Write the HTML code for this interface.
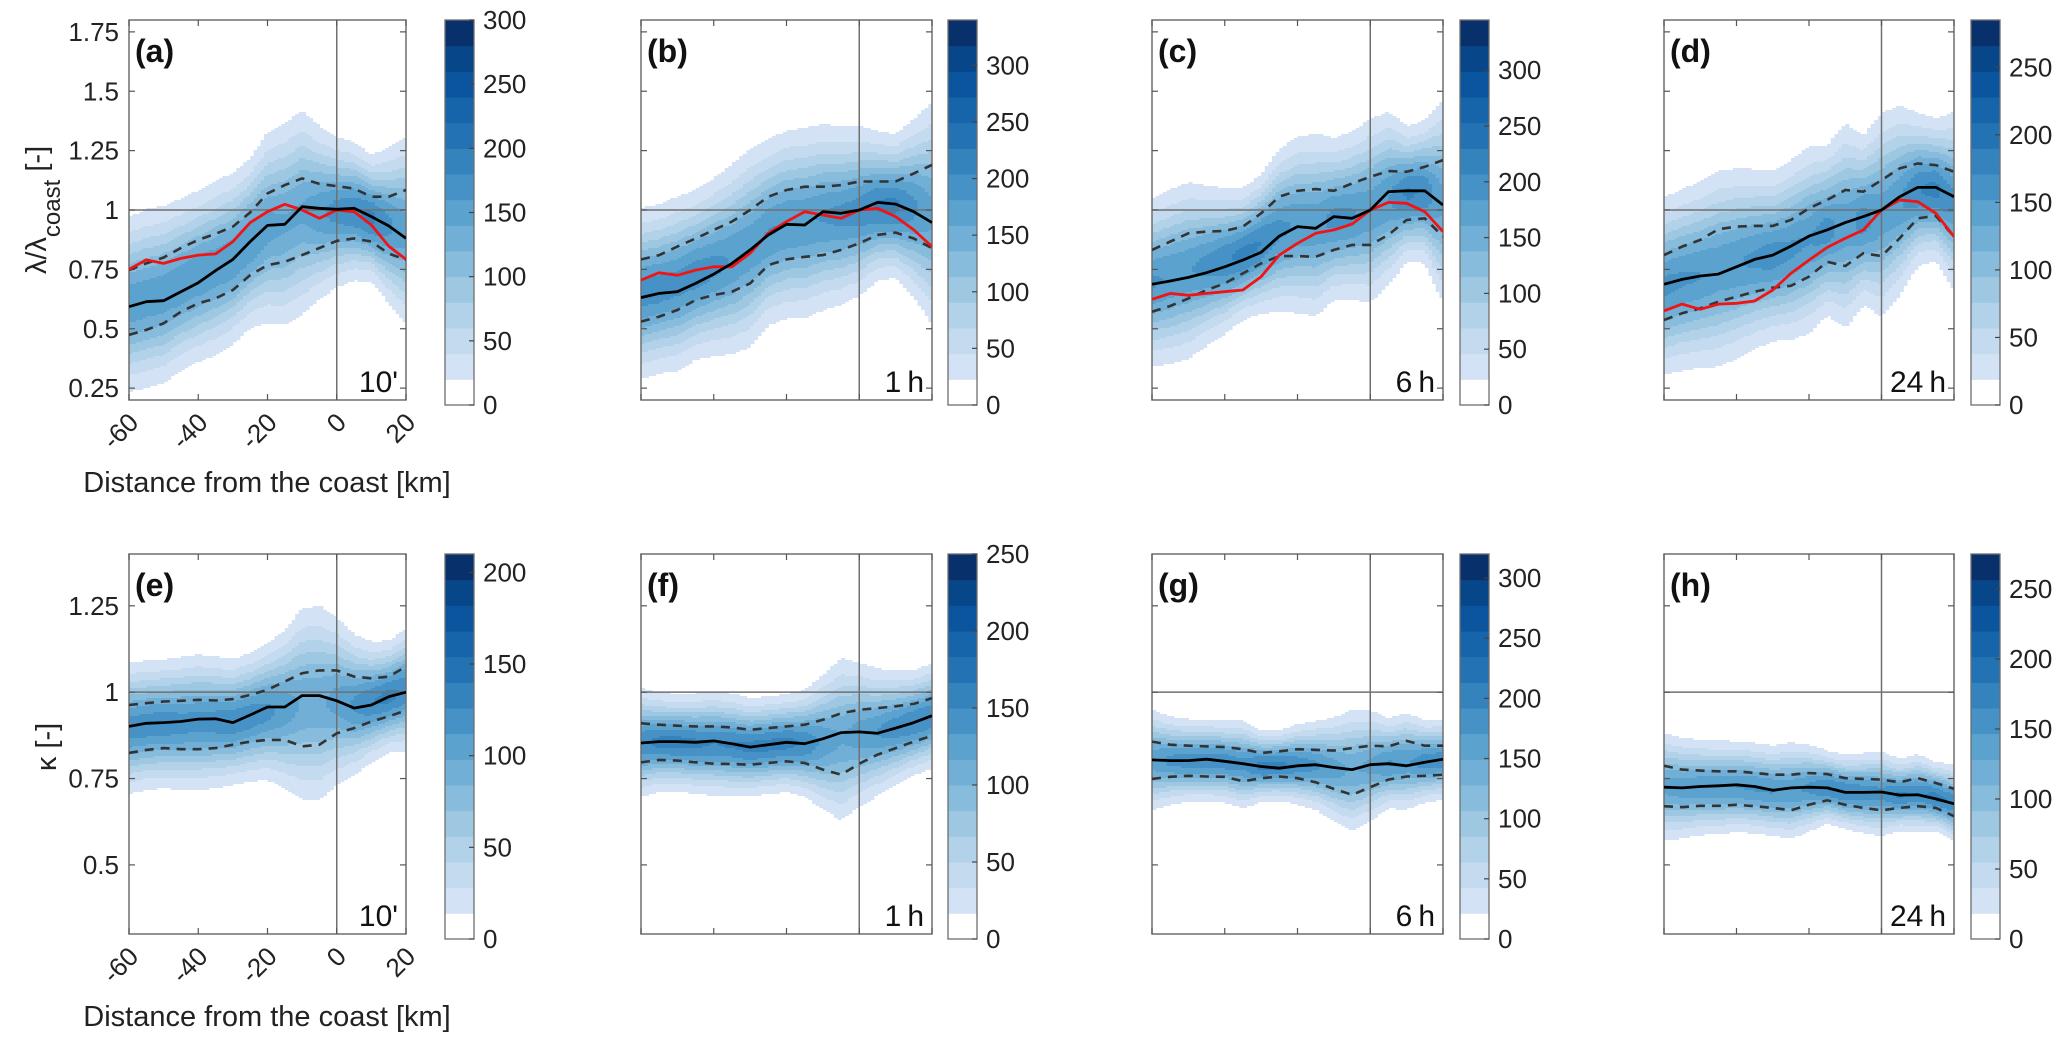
<!DOCTYPE html>
<html><head><meta charset="utf-8"><title>Density panels</title>
<style>
html,body{margin:0;padding:0;background:#fff;}
svg{display:block;font-family:"Liberation Sans",Arial,sans-serif;}
</style></head>
<body>
<svg id="fig" xmlns="http://www.w3.org/2000/svg" width="2067" height="1044" viewBox="0 0 2067 1044"></svg>
<script>
// ---------- data ----------
const xKm = [-60,-55,-50,-45,-40,-35,-30,-25,-20,-15,-10,-5,0,5,10,15,20];
const xTicks = [-60,-40,-20,0,20];
const yTicksTop = [0.25,0.5,0.75,1,1.25,1.5,1.75];
const yTickLabelsTop = ["0.25","0.5","0.75","1","1.25","1.5","1.75"];
const yTicksBot = [0.5,0.75,1,1.25];
const yTickLabelsBot = ["0.5","0.75","1","1.25"];
const panelLetters = ["(a)","(b)","(c)","(d)","(e)","(f)","(g)","(h)"];
const timeLabels = ["10'","1\u2009h","6\u2009h","24\u2009h","10'","1\u2009h","6\u2009h","24\u2009h"];
const cbMax = [300,340,345,285,210,250,320,275];
const cbTicks = [[0,50,100,150,200,250,300],[0,50,100,150,200,250,300],[0,50,100,150,200,250,300],[0,50,100,150,200,250],
                 [0,50,100,150,200],[0,50,100,150,200,250],[0,50,100,150,200,250,300],[0,50,100,150,200,250]];

const medA = [0.593,0.614,0.618,0.656,0.694,0.745,0.792,0.867,0.935,0.94,1.014,1.007,1.003,1.007,0.972,0.933,0.881];
const redA = [0.75,0.79,0.775,0.796,0.81,0.815,0.867,0.947,0.993,1.024,1.0,0.965,1.0,0.993,0.937,0.848,0.792];
const upA  = [0.747,0.775,0.80,0.84,0.874,0.90,0.93,0.99,1.07,1.105,1.133,1.11,1.10,1.09,1.056,1.056,1.084];
const loA  = [0.474,0.495,0.523,0.572,0.607,0.628,0.663,0.726,0.768,0.782,0.81,0.84,0.87,0.88,0.867,0.817,0.79];

const medB = [0.631,0.649,0.656,0.691,0.73,0.775,0.832,0.895,0.94,0.937,0.993,0.986,1.0,1.032,1.025,0.993,0.947];
const redB = [0.705,0.736,0.725,0.747,0.761,0.761,0.818,0.902,0.951,0.993,0.979,0.965,1.0,1.007,0.972,0.916,0.846];
const upB  = [0.792,0.81,0.846,0.88,0.916,0.951,1.0,1.056,1.084,1.098,1.098,1.105,1.12,1.12,1.12,1.154,1.19];
const loB  = [0.53,0.551,0.579,0.621,0.642,0.656,0.691,0.768,0.792,0.803,0.81,0.832,0.86,0.895,0.905,0.88,0.839];

const medC = [0.687,0.701,0.716,0.736,0.761,0.789,0.822,0.89,0.93,0.923,0.972,0.965,1.0,1.077,1.081,1.081,1.021];
const redC = [0.624,0.649,0.641,0.649,0.656,0.663,0.719,0.81,0.86,0.902,0.916,0.941,1.0,1.032,1.028,0.993,0.909];
const upC  = [0.832,0.867,0.902,0.909,0.912,0.93,0.986,1.056,1.081,1.088,1.081,1.112,1.14,1.164,1.161,1.182,1.21];
const loC  = [0.572,0.596,0.628,0.663,0.691,0.733,0.775,0.806,0.806,0.803,0.832,0.853,0.853,0.895,0.958,0.965,0.888];

const medD = [0.687,0.708,0.722,0.73,0.761,0.792,0.81,0.848,0.89,0.916,0.947,0.972,1.0,1.056,1.095,1.095,1.056];
const redD = [0.575,0.604,0.582,0.604,0.607,0.617,0.663,0.733,0.789,0.842,0.881,0.916,1.0,1.042,1.035,0.986,0.888];
const upD  = [0.81,0.846,0.874,0.919,0.93,0.933,0.933,0.958,1.007,1.042,1.084,1.077,1.126,1.175,1.196,1.189,1.161];
const loD  = [0.537,0.565,0.586,0.614,0.635,0.656,0.673,0.681,0.719,0.782,0.764,0.818,0.806,0.881,0.965,0.975,0.888];

const medE = [0.901,0.910,0.912,0.915,0.922,0.923,0.912,0.934,0.957,0.957,0.990,0.990,0.975,0.954,0.963,0.987,1.0];
const upE  = [0.963,0.968,0.973,0.975,0.978,0.976,0.98,0.992,1.007,1.031,1.055,1.063,1.063,1.045,1.04,1.045,1.074];
const loE  = [0.824,0.833,0.838,0.835,0.835,0.838,0.848,0.857,0.862,0.862,0.843,0.848,0.881,0.896,0.915,0.93,0.947];

const medF = [0.853,0.857,0.857,0.855,0.859,0.851,0.841,0.848,0.855,0.851,0.865,0.883,0.885,0.881,0.896,0.912,0.932];
const upF  = [0.91,0.906,0.903,0.901,0.901,0.898,0.891,0.896,0.901,0.906,0.92,0.939,0.949,0.954,0.959,0.966,0.983];
const loF  = [0.797,0.804,0.802,0.797,0.793,0.792,0.79,0.795,0.8,0.795,0.776,0.761,0.793,0.819,0.838,0.857,0.874];

const medG = [0.804,0.802,0.802,0.806,0.8,0.793,0.785,0.78,0.787,0.79,0.782,0.776,0.79,0.793,0.787,0.797,0.806];
const upG  = [0.857,0.848,0.845,0.843,0.841,0.835,0.824,0.829,0.835,0.833,0.831,0.838,0.845,0.843,0.859,0.845,0.845];
const loG  = [0.749,0.755,0.758,0.756,0.755,0.742,0.751,0.756,0.751,0.739,0.72,0.703,0.725,0.747,0.756,0.758,0.761];

const medH = [0.725,0.723,0.727,0.729,0.732,0.727,0.716,0.723,0.725,0.723,0.71,0.71,0.711,0.702,0.703,0.691,0.677];
const upH  = [0.787,0.776,0.773,0.771,0.771,0.766,0.761,0.761,0.766,0.763,0.751,0.749,0.747,0.739,0.751,0.737,0.72];
const loH  = [0.67,0.667,0.671,0.671,0.674,0.67,0.665,0.658,0.674,0.687,0.674,0.665,0.658,0.665,0.67,0.665,0.641];

// ---------- layout (not data) ----------
const palette = ["#ffffff","#d3e3f5","#c4dbef","#b2d2ea","#9ec8e1","#88bcdc","#71afd7","#5ba2cf","#4692c6","#3483bd","#2372b4","#1664aa","#0b559e","#08468a","#08306b"];
const NL = 15;
const panels = [
 {x0:129,w:277,y0:20,h:380,ymin:0.2,ymax:1.8,cbx:445,cbTop:20,cbBot:405,med:medA,red:redA,up:upA,lo:loA,labels:true,row:0},
 {x0:641,w:291,y0:20,h:380,ymin:0.2,ymax:1.8,cbx:948,cbTop:20,cbBot:405,med:medB,red:redB,up:upB,lo:loB,labels:false,row:0},
 {x0:1152,w:291,y0:20,h:380,ymin:0.2,ymax:1.8,cbx:1460,cbTop:20,cbBot:405,med:medC,red:redC,up:upC,lo:loC,labels:false,row:0},
 {x0:1664,w:290,y0:20,h:380,ymin:0.2,ymax:1.8,cbx:1971,cbTop:20,cbBot:405,med:medD,red:redD,up:upD,lo:loD,labels:false,row:0},
 {x0:129,w:277,y0:554,h:380,ymin:0.3,ymax:1.4,cbx:445,cbTop:554,cbBot:939,med:medE,red:null,up:upE,lo:loE,labels:true,row:1},
 {x0:641,w:291,y0:554,h:380,ymin:0.3,ymax:1.4,cbx:948,cbTop:554,cbBot:939,med:medF,red:null,up:upF,lo:loF,labels:false,row:1},
 {x0:1152,w:291,y0:554,h:380,ymin:0.3,ymax:1.4,cbx:1460,cbTop:554,cbBot:939,med:medG,red:null,up:upG,lo:loG,labels:false,row:1},
 {x0:1664,w:290,y0:554,h:380,ymin:0.3,ymax:1.4,cbx:1971,cbTop:554,cbBot:939,med:medH,red:null,up:upH,lo:loH,labels:false,row:1}
];
const NS = "http://www.w3.org/2000/svg";
const svg = document.getElementById('fig');
function mk(tag, attrs, parent){
  const e = document.createElementNS(NS, tag);
  for (const k in attrs) e.setAttribute(k, attrs[k]);
  (parent||svg).appendChild(e);
  return e;
}
function interp(arr, km){
  const t = (km + 60) / 5;
  const i = Math.max(0, Math.min(15, Math.floor(t)));
  const f = t - i;
  return arr[i] * (1 - f) + arr[i + 1] * f;
}

panels.forEach((p, pi) => {
  const g = mk('g', {});
  
  
  const X = v => p.x0 + (v + 60) / 80 * p.w;
  const Y = v => p.y0 + (p.ymax - v) / (p.ymax - p.ymin) * p.h;
  const Yinv = y => p.ymax - (y - p.y0) / p.h * (p.ymax - p.ymin);

  const cid = 'clip' + pi;
  const cp = mk('clipPath', {id: cid}, g);
  mk('rect', {x: p.x0, y: p.y0, width: p.w, height: p.h}, cp);

  // density field (derived from quartile arrays)
  const dens = mk('g', {'clip-path': 'url(#' + cid + ')'}, g);
  
  
  let sMin = 1e9;
  for (let i = 0; i < xKm.length; i++) sMin = Math.min(sMin, p.up[i] - p.lo[i]);
  sMin /= 1.35;
  for (let c = 0; c < 80; c++) {
    const km = -60 + c + 0.5;
    const up = interp(p.up, km), lo = interp(p.lo, km), md = interp(p.med, km);
    const mid = (up + lo) / 2 * 0.6 + md * 0.4;
    const s = Math.max((up - lo) / 1.35, 0.03);
    const peak = 0.62 * Math.sqrt(sMin / s);
    const sw = s * 0.9;
    const xa = X(-60 + c), xb = X(-59 + c);
    let runStart = null, runLev = 0;
    for (let y = p.y0; y <= p.y0 + p.h; y += 2) {
      const v = Yinv(y + 1);
      const z = (v - mid) / sw;
      const d = peak * Math.exp(-0.5 * z * z);
      let lev = Math.min(NL - 1, Math.floor(d * NL));
      if (y >= p.y0 + p.h) lev = -1;
      if (lev !== runLev || y >= p.y0 + p.h) {
        if (runLev > 0 && runStart !== null) {
          mk('rect', {x: xa.toFixed(2), y: runStart, width: (xb - xa + 0.6).toFixed(2), height: y - runStart, fill: palette[runLev]}, dens);
        }
        runStart = y; runLev = lev;
      }
    }
  }

  const fr = mk('rect', {x: p.x0, y: p.y0, width: p.w, height: p.h, fill: 'none', stroke: '#6e6e6e', 'stroke-width': 1.5}, g);
  
  

  const rv = mk('line', {x1: X(0), x2: X(0), y1: p.y0, y2: p.y0 + p.h, stroke: '#707070', 'stroke-width': 1.5}, g);
  
  
  const rh = mk('line', {x1: p.x0, x2: p.x0 + p.w, y1: Y(1), y2: Y(1), stroke: '#707070', 'stroke-width': 1.5}, g);
  
  

  xTicks.forEach(t => {
    mk('line', {x1: X(t), x2: X(t), y1: p.y0 + p.h, y2: p.y0 + p.h - 6, stroke: '#555', 'stroke-width': 1.2}, g);
    mk('line', {x1: X(t), x2: X(t), y1: p.y0, y2: p.y0 + 6, stroke: '#555', 'stroke-width': 1.2}, g);
    if (p.labels) {
      const tx = X(t) + 11, ty = p.y0 + p.h + 24;
      const lb = mk('text', {x: tx, y: ty, 'text-anchor': 'end', 'font-size': 26, fill: '#222', transform: 'rotate(-45 ' + tx + ' ' + ty + ')'}, g);
      
      
      lb.textContent = String(t);
    }
  });
  const yt = p.row === 0 ? yTicksTop : yTicksBot;
  const yl = p.row === 0 ? yTickLabelsTop : yTickLabelsBot;
  yt.forEach((t, i) => {
    mk('line', {x1: p.x0, x2: p.x0 + 6, y1: Y(t), y2: Y(t), stroke: '#555', 'stroke-width': 1.2}, g);
    mk('line', {x1: p.x0 + p.w, x2: p.x0 + p.w - 6, y1: Y(t), y2: Y(t), stroke: '#555', 'stroke-width': 1.2}, g);
    if (p.labels) {
      const lb = mk('text', {x: p.x0 - 10, y: Y(t) + 9, 'text-anchor': 'end', 'font-size': 26, fill: '#222'}, g);
      
      
      lb.textContent = yl[i];
    }
  });

  const lineG = mk('g', {'clip-path': 'url(#' + cid + ')'}, g);
  const ptsOf = arr => xKm.map((k, i) => X(k).toFixed(1) + ',' + Y(arr[i]).toFixed(1)).join(' ');
  const u = mk('polyline', {points: ptsOf(p.up), fill: 'none', stroke: '#333', 'stroke-width': 2.6, 'stroke-dasharray': '9 7'}, lineG);
  
  
  const l = mk('polyline', {points: ptsOf(p.lo), fill: 'none', stroke: '#333', 'stroke-width': 2.6, 'stroke-dasharray': '9 7'}, lineG);
  
  
  if (p.red) {
    const r = mk('polyline', {points: ptsOf(p.red), fill: 'none', stroke: '#f01414', 'stroke-width': 2.8, 'stroke-linejoin': 'round'}, lineG);
    
    
  }
  const m = mk('polyline', {points: ptsOf(p.med), fill: 'none', stroke: '#000', 'stroke-width': 2.8, 'stroke-linejoin': 'round'}, lineG);
  
  

  const pl = mk('text', {x: p.x0 + 6, y: p.y0 + 42, 'font-size': 32, 'font-weight': 'bold', fill: '#111'}, g);
  
  
  pl.textContent = panelLetters[pi];
  const tl = mk('text', {x: p.x0 + p.w - 8, y: p.y0 + p.h - 8, 'text-anchor': 'end', 'font-size': 30, fill: '#111'}, g);
  
  
  tl.textContent = timeLabels[pi];

  const cb = mk('g', {}, g);
  
  
  const cbw = 29, H = p.cbBot - p.cbTop;
  for (let k = 0; k < NL; k++) {
    const y1 = p.cbBot - (k + 1) * H / NL, y2 = p.cbBot - k * H / NL;
    mk('rect', {x: p.cbx, y: y1.toFixed(2), width: cbw, height: (y2 - y1 + 0.5).toFixed(2), fill: palette[k]}, cb);
  }
  mk('rect', {x: p.cbx, y: p.cbTop, width: cbw, height: H, fill: 'none', stroke: '#6e6e6e', 'stroke-width': 1.3}, cb);
  cbTicks[pi].forEach(t => {
    const yy = p.cbBot - t / cbMax[pi] * H;
    mk('line', {x1: p.cbx + cbw, x2: p.cbx + cbw - 5, y1: yy, y2: yy, stroke: '#444', 'stroke-width': 1.2}, cb);
    const lb = mk('text', {x: p.cbx + cbw + 9, y: yy + 9, 'font-size': 26, fill: '#222'}, cb);
    
    
    lb.textContent = String(t);
  });

  if (p.labels) {
    const xl = mk('text', {x: 267, y: p.y0 + p.h + 92, 'text-anchor': 'middle', 'font-size': 29, fill: '#222'}, g);
    
    
    xl.textContent = 'Distance from the coast [km]';
  }
});

const yt1 = mk('text', {x: 0, y: 0, 'text-anchor': 'middle', 'font-size': 29, fill: '#222', transform: 'translate(46 210) rotate(-90)'});


yt1.innerHTML = '\u03bb/\u03bb<tspan baseline-shift="sub" font-size="24">coast</tspan> [-]';
const yt2 = mk('text', {x: 0, y: 0, 'text-anchor': 'middle', 'font-size': 29, fill: '#222', transform: 'translate(56 747) rotate(-90)'});


yt2.textContent = '\u03ba [-]';
</script>
</body></html>
